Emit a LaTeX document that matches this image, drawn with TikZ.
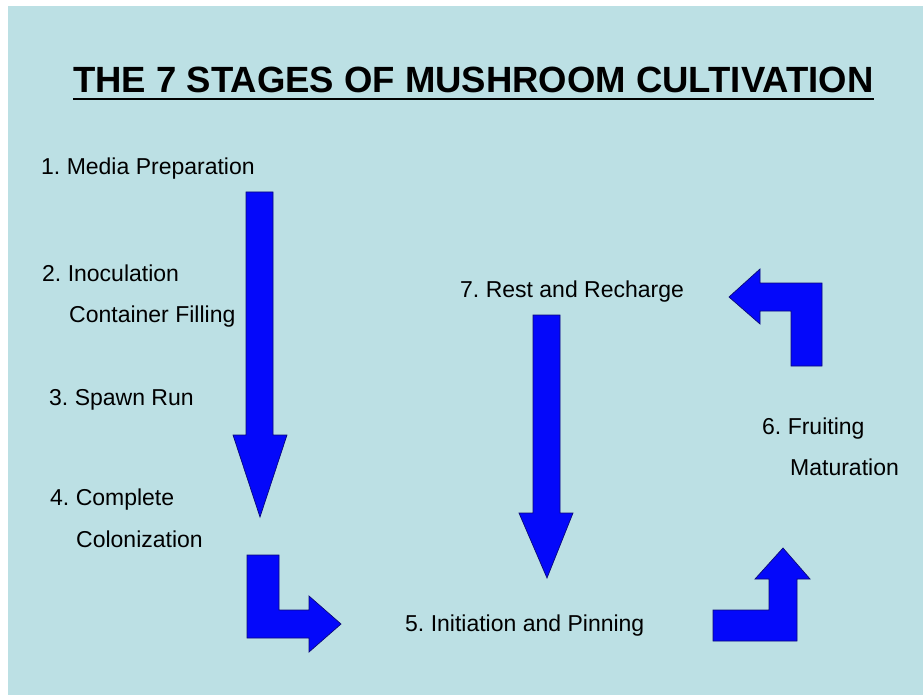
\documentclass[tikz,border=0pt]{standalone}
\usepackage{fontspec}
\setmainfont{Liberation Sans}
\frenchspacing
\definecolor{bgblue}{RGB}{188,224,228}
\definecolor{arrowblue}{RGB}{4,8,250}
\definecolor{arrowedge}{RGB}{10,10,120}
\begin{document}
\begin{tikzpicture}[x=1pt,y=-1pt,
  lbl/.style={anchor=base west,inner sep=0pt,font=\fontsize{23}{27}\selectfont\frenchspacing},
  blockarrow/.style={fill=arrowblue,draw=arrowedge,line width=0.7pt,line join=miter}]
\useasboundingbox (0,0) rectangle (923,695);
\fill[white] (0,0) rectangle (923,695);
\fill[bgblue] (8,6) rectangle (923,695);
% title
\node[anchor=base west,inner sep=0pt,font=\fontsize{36.5}{40}\selectfont\bfseries] (title) at (73,93) {THE 7 STAGES OF MUSHROOM CULTIVATION};
\draw[line width=2.5pt] ([yshift=-6pt]title.base west) -- ([yshift=-6pt]title.base east);
% labels
\node[lbl] (s1) at (41,175) {1. Media Preparation};
\node[lbl] (s2a) at (42,281) {2. Inoculation};
\node[lbl] (s2b) at (69,322) {Container Filling};
\node[lbl] (s3) at (49,405) {3. Spawn Run};
\node[lbl] (s4a) at (50,505) {4. Complete};
\node[lbl] (s4b) at (76,547) {Colonization};
\node[lbl] (s5) at (405,631) {5. Initiation and Pinning};
\node[lbl] (s6a) at (762,434) {6. Fruiting};
\node[lbl] (s6b) at (790,475) {Maturation};
\node[lbl] (s7) at (460,297) {7. Rest and Recharge};
% block arrows
\draw[blockarrow] (246,192) -- (273,192) -- (273,435) -- (287,435) -- (260,517) -- (233,435) -- (246,435) -- cycle;
\draw[blockarrow] (533,315) -- (560,315) -- (560,513) -- (573,513) -- (547,578) -- (519,513) -- (533,513) -- cycle;
\draw[blockarrow] (247,555) -- (279,555) -- (279,610) -- (309,610) -- (309,596) -- (341,624) -- (309,652) -- (309,638) -- (247,638) -- cycle;
\draw[blockarrow] (713,610) -- (769,610) -- (769,579) -- (755,579) -- (783,548) -- (810,579) -- (797,579) -- (797,641) -- (713,641) -- cycle;
\draw[blockarrow] (822,366) -- (791,366) -- (791,311) -- (760,311) -- (760,324) -- (729,297) -- (760,269) -- (760,283) -- (822,283) -- cycle;
\end{tikzpicture}
\end{document}
